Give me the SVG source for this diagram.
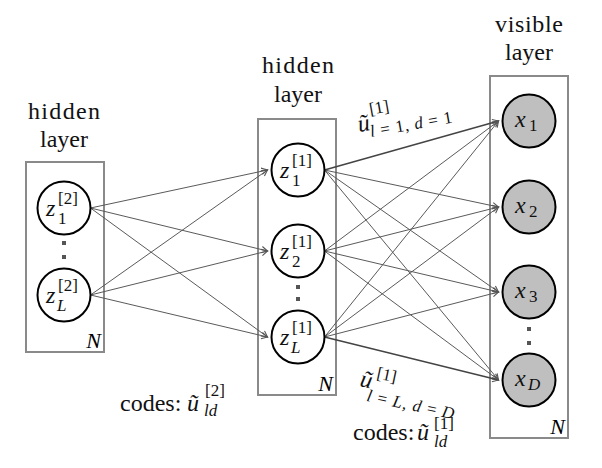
<svg xmlns="http://www.w3.org/2000/svg" width="602" height="468" viewBox="0 0 602 468">
<defs>
<marker id="ah" markerWidth="9" markerHeight="9" refX="6.5" refY="4" orient="auto" markerUnits="userSpaceOnUse">
<path d="M0.5,0.8 L6.5,4 L0.5,7.2" fill="none" stroke="#555" stroke-width="1.1"/>
</marker>
</defs>
<rect width="602" height="468" fill="#fff"/>

<g id="titles" font-family="Liberation Serif, Times New Roman, serif" font-size="24" text-anchor="middle" fill="#111">
<text x="64" y="119" textLength="72" lengthAdjust="spacing">hidden</text>
<text x="64" y="147">layer</text>
<text x="298" y="73" textLength="72" lengthAdjust="spacing">hidden</text>
<text x="298" y="102">layer</text>
<text x="529" y="32" textLength="68" lengthAdjust="spacing">visible</text>
<text x="529" y="60">layer</text>
</g>

<g id="plate-h2">
<rect x="26" y="162" width="78" height="190" fill="none" stroke="#8a8a8a" stroke-width="2"/>
<text font-family="Liberation Serif, serif" x="101" y="348" text-anchor="end" font-size="22" font-style="italic">N</text>
</g>
<g id="plate-h1">
<rect x="258" y="119" width="78" height="276" fill="none" stroke="#8a8a8a" stroke-width="2"/>
<text font-family="Liberation Serif, serif" x="333" y="391" text-anchor="end" font-size="22" font-style="italic">N</text>
</g>
<g id="plate-v">
<rect x="490" y="76" width="78" height="362" fill="none" stroke="#8a8a8a" stroke-width="2"/>
<text font-family="Liberation Serif, serif" x="565" y="434" text-anchor="end" font-size="22" font-style="italic">N</text>
</g>

<g id="connectors" fill="none" stroke="#5a5a5a" stroke-width="1" marker-end="url(#ah)">
<path d="M90.5,208 L267.5,170"/>
<path d="M90.5,208 L267.5,251"/>
<path d="M90.5,208 L267.5,337"/>
<path d="M90.5,295 L267.5,170"/>
<path d="M90.5,295 L267.5,251"/>
<path d="M90.5,295 L267.5,337"/>
<path d="M324.5,170 L498.5,121" stroke="#444" stroke-width="1.5"/>
<path d="M324.5,170 L498.5,207"/>
<path d="M324.5,170 L498.5,292"/>
<path d="M324.5,170 L498.5,380"/>
<path d="M324.5,251 L498.5,121"/>
<path d="M324.5,251 L498.5,207"/>
<path d="M324.5,251 L498.5,292"/>
<path d="M324.5,251 L498.5,380"/>
<path d="M324.5,337 L498.5,121"/>
<path d="M324.5,337 L498.5,207"/>
<path d="M324.5,337 L498.5,292"/>
<path d="M324.5,337 L498.5,380" stroke="#444" stroke-width="1.5"/>
</g>

<g id="label-top" transform="translate(359,132) rotate(-10)" font-family="Liberation Serif, serif" fill="#111">
<text x="0" y="0" font-size="24" font-style="italic">ũ</text>
<text x="14" y="-15" font-size="17">[1]</text>
<text x="11" y="7" font-size="17" textLength="83" lengthAdjust="spacing"><tspan font-style="italic">l</tspan> = 1, <tspan font-style="italic">d</tspan> = 1</text>
</g>
<g id="label-bottom" transform="translate(359,386) rotate(12)" font-family="Liberation Serif, serif" fill="#111">
<text x="0" y="0" font-size="24" font-style="italic">ũ</text>
<text x="15" y="-11" font-size="17">[1]</text>
<text x="10" y="13" font-size="17" textLength="89" lengthAdjust="spacing"><tspan font-style="italic">l</tspan> = <tspan font-style="italic">L</tspan>, <tspan font-style="italic">d</tspan> = <tspan font-style="italic">D</tspan></text>
</g>

<g id="z2_1" font-family="Liberation Serif, serif" fill="#111">
<circle cx="64" cy="208" r="26.5" fill="#fff" stroke="#000" stroke-width="2"/>
<text x="46" y="216" font-size="24" font-style="italic">z</text>
<text x="58" y="204" font-size="17">[2]</text>
<text x="58" y="224" font-size="17">1</text>
</g>
<g id="dots-h2" fill="#555">
<rect x="62" y="241" width="4" height="4"/>
<rect x="62" y="255" width="4" height="4"/>
</g>
<g id="z2_L" font-family="Liberation Serif, serif" fill="#111">
<circle cx="64" cy="295" r="26.5" fill="#fff" stroke="#000" stroke-width="2"/>
<text x="46" y="303" font-size="24" font-style="italic">z</text>
<text x="58" y="291" font-size="17">[2]</text>
<text x="57" y="311" font-size="17" font-style="italic">L</text>
</g>

<g id="z1_1" font-family="Liberation Serif, serif" fill="#111">
<circle cx="298" cy="170" r="26.5" fill="#fff" stroke="#000" stroke-width="2"/>
<text x="280" y="178" font-size="24" font-style="italic">z</text>
<text x="292" y="166" font-size="17">[1]</text>
<text x="292" y="186" font-size="17">1</text>
</g>
<g id="z1_2" font-family="Liberation Serif, serif" fill="#111">
<circle cx="298" cy="251" r="26.5" fill="#fff" stroke="#000" stroke-width="2"/>
<text x="280" y="259" font-size="24" font-style="italic">z</text>
<text x="292" y="247" font-size="17">[1]</text>
<text x="292" y="267" font-size="17">2</text>
</g>
<g id="dots-h1" fill="#555">
<rect x="296" y="285" width="4" height="4"/>
<rect x="296" y="297" width="4" height="4"/>
</g>
<g id="z1_L" font-family="Liberation Serif, serif" fill="#111">
<circle cx="298" cy="337" r="26.5" fill="#fff" stroke="#000" stroke-width="2"/>
<text x="280" y="345" font-size="24" font-style="italic">z</text>
<text x="292" y="333" font-size="17">[1]</text>
<text x="291" y="353" font-size="17" font-style="italic">L</text>
</g>

<g id="x_1" font-family="Liberation Serif, serif" fill="#111">
<circle cx="529" cy="121" r="26.5" fill="#bfbfbf" stroke="#000" stroke-width="2"/>
<text x="515" y="127" font-size="24" font-style="italic">x</text>
<text x="529" y="131" font-size="17">1</text>
</g>
<g id="x_2" font-family="Liberation Serif, serif" fill="#111">
<circle cx="529" cy="207" r="26.5" fill="#bfbfbf" stroke="#000" stroke-width="2"/>
<text x="515" y="213" font-size="24" font-style="italic">x</text>
<text x="529" y="217" font-size="17">2</text>
</g>
<g id="x_3" font-family="Liberation Serif, serif" fill="#111">
<circle cx="529" cy="292" r="26.5" fill="#bfbfbf" stroke="#000" stroke-width="2"/>
<text x="515" y="298" font-size="24" font-style="italic">x</text>
<text x="529" y="302" font-size="17">3</text>
</g>
<g id="dots-v" fill="#555">
<rect x="527" y="327" width="4" height="4"/>
<rect x="527" y="341" width="4" height="4"/>
</g>
<g id="x_D" font-family="Liberation Serif, serif" fill="#111">
<circle cx="529" cy="380" r="26.5" fill="#bfbfbf" stroke="#000" stroke-width="2"/>
<text x="515" y="386" font-size="24" font-style="italic">x</text>
<text x="528" y="390" font-size="17" font-style="italic">D</text>
</g>

<g id="codes-2" font-family="Liberation Serif, serif" fill="#111">
<text x="120" y="411" font-size="24">codes:</text>
<text x="187" y="411" font-size="24" font-style="italic">ũ</text>
<text x="205" y="396" font-size="17">[2]</text>
<text x="204" y="416" font-size="17" font-style="italic">ld</text>
</g>
<g id="codes-1" font-family="Liberation Serif, serif" fill="#111">
<text x="353" y="440" font-size="24">codes:</text>
<text x="417" y="440" font-size="24" font-style="italic">ũ</text>
<text x="434" y="429" font-size="17">[1]</text>
<text x="434" y="447" font-size="17" font-style="italic">ld</text>
</g>
</svg>
